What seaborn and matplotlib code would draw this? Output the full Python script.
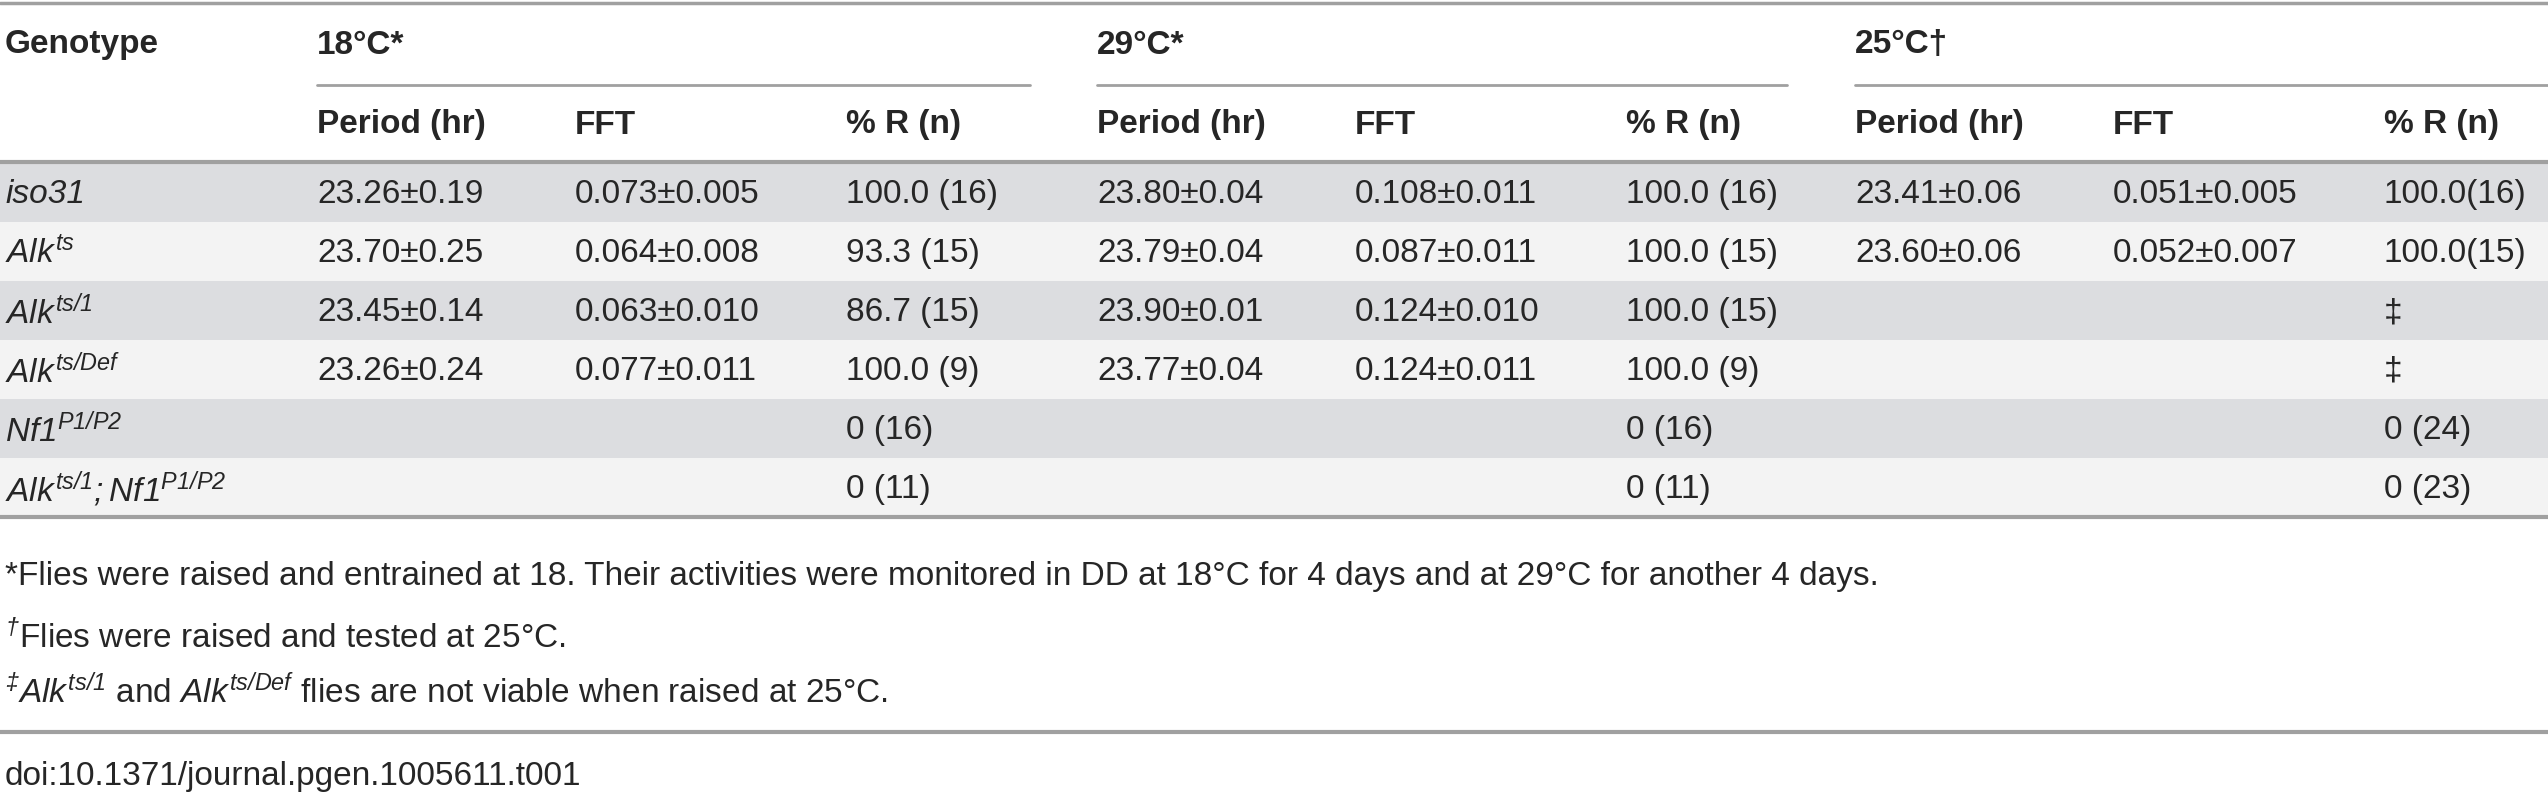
import matplotlib
matplotlib.use("Agg")
import matplotlib.pyplot as plt
import seaborn as sns

# table content
genotypes = [r'iso31', r'$\mathit{Alk}^{\mathit{ts}}$', r'$\mathit{Alk}^{\mathit{ts/1}}$',
             r'$\mathit{Alk}^{\mathit{ts/Def}}$', r'$\mathit{Nf1}^{\mathit{P1/P2}}$',
             r'$\mathit{Alk}^{\mathit{ts/1}}{;}\mathit{Nf1}^{\mathit{P1/P2}}$']
groups = ['18°C*', '29°C*', '25°C†']
subheaders = ['Period (hr)', 'FFT', '% R (n)']
period_18 = ['23.26±0.19', '23.70±0.25', '23.45±0.14', '23.26±0.24', '', '']
fft_18 = ['0.073±0.005', '0.064±0.008', '0.063±0.010', '0.077±0.011', '', '']
r_18 = ['100.0 (16)', '93.3 (15)', '86.7 (15)', '100.0 (9)', '0 (16)', '0 (11)']
period_29 = ['23.80±0.04', '23.79±0.04', '23.90±0.01', '23.77±0.04', '', '']
fft_29 = ['0.108±0.011', '0.087±0.011', '0.124±0.010', '0.124±0.011', '', '']
r_29 = ['100.0 (16)', '100.0 (15)', '100.0 (15)', '100.0 (9)', '0 (16)', '0 (11)']
period_25 = ['23.41±0.06', '23.60±0.06', '', '', '', '']
fft_25 = ['0.051±0.005', '0.052±0.007', '', '', '', '']
r_25 = ['100.0(16)', '100.0(15)', '‡', '‡', '0 (24)', '0 (23)']
footnotes = [
    '*Flies were raised and entrained at 18. Their activities were monitored in DD at 18°C for 4 days and at 29°C for another 4 days.',
    r'$^{\dag}$Flies were raised and tested at 25°C.',
    r'$^{\ddag}\mathit{Alk}^{\mathit{ts/1}}$ and $\mathit{Alk}^{\mathit{ts/Def}}$ flies are not viable when raised at 25°C.',
]
doi = 'doi:10.1371/journal.pgen.1005611.t001'

sns.set_style('white')
plt.rcParams['font.family'] = ['Liberation Sans', 'DejaVu Sans']
plt.rcParams['mathtext.fontset'] = 'custom'
plt.rcParams['mathtext.rm'] = 'Liberation Sans:italic'
plt.rcParams['mathtext.it'] = 'Liberation Sans:italic'
plt.rcParams['mathtext.bf'] = 'Liberation Sans:bold'

fig = plt.figure(figsize=(25.48, 8), dpi=100)
ax = fig.add_axes([0, 0, 1, 1])
ax.set_xlim(0, 2548)
ax.set_ylim(800, 0)
ax.axis('off')

fs = 24
line_c = '#a0a0a0'

# header
ax.axhline(3, color=line_c, lw=2.5)
ax.text(5, 45, 'Genotype', fontsize=fs, fontweight='bold', va='center')
group_x = [317, 1097, 1855]
group_end = [1030, 1787, 2548]
col_off = [0, 258, 529]
for g, gx, ge in zip(groups, group_x, group_end):
    ax.text(gx, 45, g, fontsize=fs, fontweight='bold', va='center')
    ax.plot([gx, ge], [85, 85], color=line_c, lw=2)
    for s, off in zip(subheaders, col_off):
        ax.text(gx + off, 125, s, fontsize=fs, fontweight='bold', va='center')
ax.axhline(162, color=line_c, lw=3)

# rows
row_top = 163
row_h = 59
cols = [period_18, fft_18, r_18, period_29, fft_29, r_29, period_25, fft_25, r_25]
col_x = [gx + off for gx in group_x for off in col_off]
for i, g in enumerate(genotypes):
    y0 = row_top + i * row_h
    ax.axhspan(y0, y0 + row_h, color='#dcdde0' if i % 2 == 0 else '#f3f3f3', lw=0)
    yc = y0 + row_h / 2 + 2
    ax.text(5, yc, g, fontsize=fs, va='center', style='italic')
    for cx, col in zip(col_x, cols):
        ax.text(cx, yc, col[i], fontsize=fs, va='center')
ax.axhline(row_top + len(genotypes) * row_h, color=line_c, lw=3)

# footnotes
for t, y in zip(footnotes, [577, 637, 692]):
    ax.text(5, y, t, fontsize=fs, va='center')
ax.axhline(732, color=line_c, lw=3)
ax.text(5, 777, doi, fontsize=fs, va='center')

fig.savefig('out.png', dpi=100, facecolor='white')
